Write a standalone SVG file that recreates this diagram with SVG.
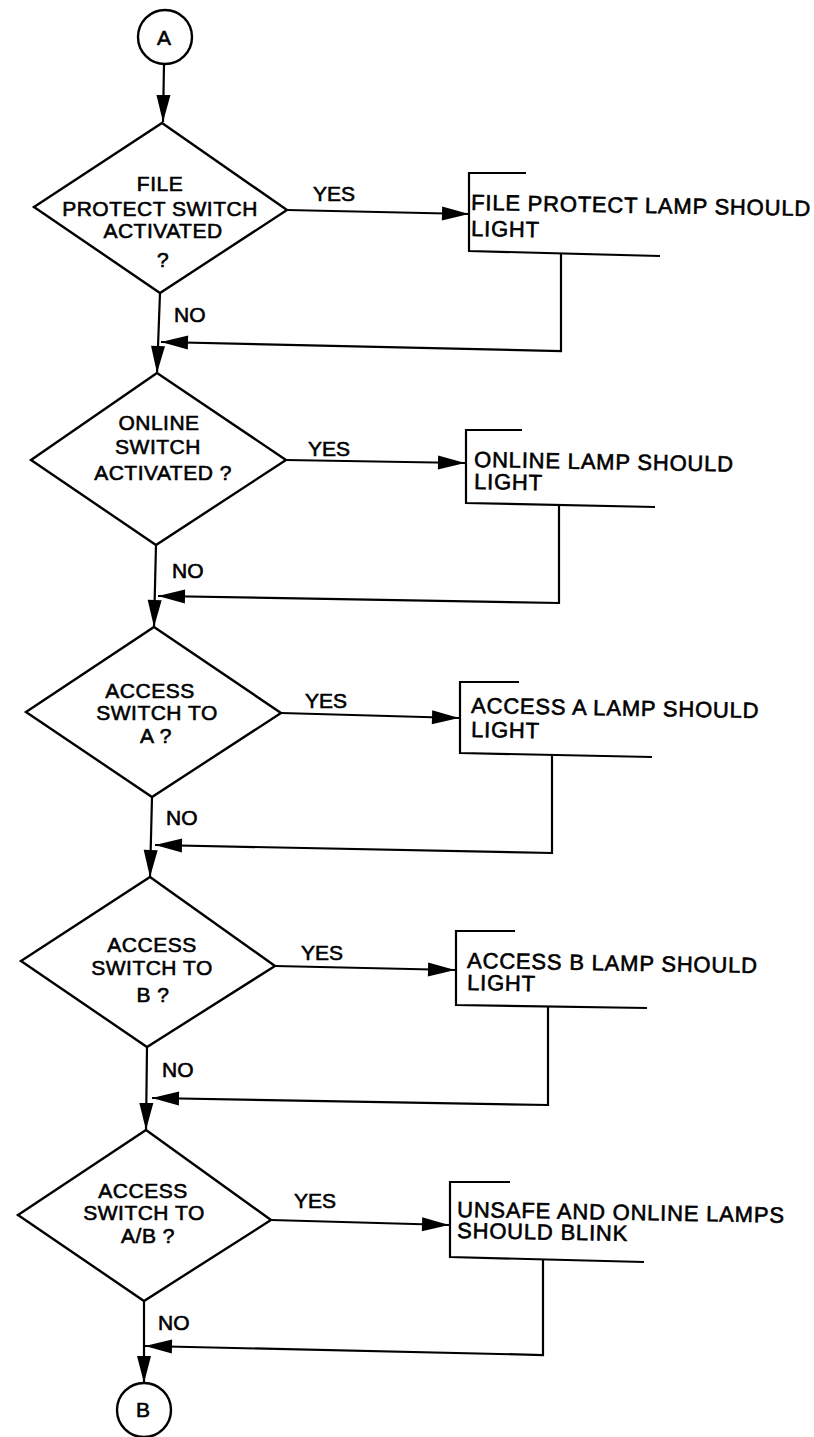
<svg xmlns="http://www.w3.org/2000/svg" width="814" height="1437" viewBox="0 0 814 1437">
<defs>
<marker id="arr" markerUnits="userSpaceOnUse" markerWidth="27" markerHeight="14" refX="27" refY="7" orient="auto" overflow="visible">
<path d="M0,0 L27,7 L0,14 Z" fill="#000"/>
</marker>
</defs>
<style>
.ln{fill:none;stroke:#000;stroke-width:2.2;stroke-linejoin:miter}
.sh{fill:none;stroke:#000;stroke-width:2.4}
.t{font-family:"Liberation Sans",Arial,sans-serif;fill:#000;stroke:#000;stroke-width:0.6}
.d{font-size:21px;letter-spacing:0.5px;text-anchor:middle}
.b{font-size:22px;letter-spacing:0.8px}
.l{font-size:21px}
.c{font-size:21px;text-anchor:middle}
</style>
<rect width="814" height="1437" fill="#fff"/>

<g id="start-A">
<circle class="sh" cx="165" cy="37" r="27"/>
<text class="t c" x="164" y="45">A</text>
</g>

<g id="decision-1">
<path class="sh" d="M162,123 L287,210 L160,293 L34,207 Z"/>
<text class="t d" x="160" y="191">FILE</text>
<text class="t d" x="160" y="216">PROTECT SWITCH</text>
<text class="t d" x="163" y="238">ACTIVATED</text>
<text class="t d" x="163" y="267">?</text>
</g>
<g id="action-1">
<path class="ln" d="M526,173 H469 V251 L660,256"/>
<text class="t b" x="471" y="210" transform="rotate(1 471 210)">FILE PROTECT LAMP SHOULD</text>
<text class="t b" x="471" y="236" transform="rotate(1 471 236)">LIGHT</text>
</g>

<g id="decision-2">
<path class="sh" d="M157,373 L286,460 L156,545 L31,460 Z"/>
<text class="t d" x="159" y="430">ONLINE</text>
<text class="t d" x="158" y="454">SWITCH</text>
<text class="t d" x="163" y="480">ACTIVATED ?</text>
</g>
<g id="action-2">
<path class="ln" d="M522,430 H466 V503 L655,507"/>
<text class="t b" x="474" y="467" transform="rotate(1 474 467)">ONLINE LAMP SHOULD</text>
<text class="t b" x="474" y="489" transform="rotate(1 474 489)">LIGHT</text>
</g>

<g id="decision-3">
<path class="sh" d="M154,627 L281,713 L152,797 L26,712 Z"/>
<text class="t d" x="150" y="698">ACCESS</text>
<text class="t d" x="157" y="720">SWITCH TO</text>
<text class="t d" x="156" y="743">A ?</text>
</g>
<g id="action-3">
<path class="ln" d="M519,682 H460 V753 L652,757"/>
<text class="t b" x="471" y="713" transform="rotate(1 471 713)">ACCESS A LAMP SHOULD</text>
<text class="t b" x="471" y="737" transform="rotate(1 471 737)">LIGHT</text>
</g>

<g id="decision-4">
<path class="sh" d="M150,877 L275,966 L147,1047 L21,961 Z"/>
<text class="t d" x="152" y="952">ACCESS</text>
<text class="t d" x="152" y="975">SWITCH TO</text>
<text class="t d" x="153" y="1002">B ?</text>
</g>
<g id="action-4">
<path class="ln" d="M515,931 H456 V1005 L647,1008"/>
<text class="t b" x="467" y="968" transform="rotate(1 467 968)">ACCESS B LAMP SHOULD</text>
<text class="t b" x="467" y="990" transform="rotate(1 467 990)">LIGHT</text>
</g>

<g id="decision-5">
<path class="sh" d="M146,1130 L271,1220 L144,1301 L18,1215 Z"/>
<text class="t d" x="143" y="1198">ACCESS</text>
<text class="t d" x="144" y="1220">SWITCH TO</text>
<text class="t d" x="148" y="1243">A/B ?</text>
</g>
<g id="action-5">
<path class="ln" d="M510,1182 H450 V1257 L644,1262"/>
<text class="t b" x="457" y="1217" transform="rotate(1 457 1217)">UNSAFE AND ONLINE LAMPS</text>
<text class="t b" x="457" y="1238" transform="rotate(1 457 1238)">SHOULD BLINK</text>
</g>

<g id="end-B">
<circle class="sh" cx="144" cy="1410" r="27"/>
<text class="t c" x="143" y="1417">B</text>
</g>

<g id="connectors">
<path class="ln" d="M164,64 L163,122" marker-end="url(#arr)"/>
<path class="ln" d="M287,210 L469,214" marker-end="url(#arr)"/>
<path class="ln" d="M160,293 L157,373" marker-end="url(#arr)"/>
<path class="ln" d="M561,253 V351 L161,342" marker-end="url(#arr)"/>

<path class="ln" d="M286,460 L465,463" marker-end="url(#arr)"/>
<path class="ln" d="M156,545 L154,627" marker-end="url(#arr)"/>
<path class="ln" d="M559,505 V603 L158,596" marker-end="url(#arr)"/>

<path class="ln" d="M281,713 L459,718" marker-end="url(#arr)"/>
<path class="ln" d="M152,797 L150,877" marker-end="url(#arr)"/>
<path class="ln" d="M552,755 V853 L155,845" marker-end="url(#arr)"/>

<path class="ln" d="M275,966 L455,970" marker-end="url(#arr)"/>
<path class="ln" d="M147,1047 L146,1130" marker-end="url(#arr)"/>
<path class="ln" d="M548,1006 V1105 L152,1098" marker-end="url(#arr)"/>

<path class="ln" d="M271,1220 L449,1225" marker-end="url(#arr)"/>
<path class="ln" d="M144,1301 L144,1383" marker-end="url(#arr)"/>
<path class="ln" d="M543,1259 V1355 L145,1346" marker-end="url(#arr)"/>

<text class="t l" x="313" y="201">YES</text>
<text class="t l" x="174" y="322">NO</text>
<text class="t l" x="308" y="456">YES</text>
<text class="t l" x="172" y="578">NO</text>
<text class="t l" x="305" y="708">YES</text>
<text class="t l" x="166" y="825">NO</text>
<text class="t l" x="301" y="960">YES</text>
<text class="t l" x="162" y="1077">NO</text>
<text class="t l" x="294" y="1208">YES</text>
<text class="t l" x="158" y="1330">NO</text>
</g>
</svg>
